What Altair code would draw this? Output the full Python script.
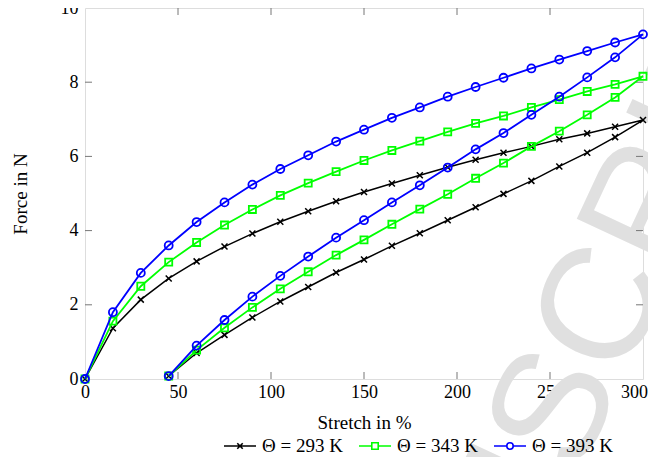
import altair as alt
import pandas as pd

# ---------------- data ----------------
series_labels = ["Θ = 293 K", "Θ = 343 K", "Θ = 393 K"]
series_colors = ["#000000", "#00ff00", "#0000ff"]

x_load = [0, 15, 30, 45, 60, 75, 90, 105, 120, 135, 150, 165, 180, 195, 210,
          225, 240, 255, 270, 285, 300]
x_unload = [285, 270, 255, 240, 225, 210, 195, 180, 165, 150, 135, 120, 105,
            90, 75, 60, 45]

black_load = [0, 1.37, 2.14, 2.71, 3.17, 3.57, 3.92, 4.24, 4.52, 4.79, 5.04,
              5.27, 5.49, 5.71, 5.91, 6.10, 6.27, 6.46, 6.62, 6.80, 6.98]
green_load = [0, 1.56, 2.50, 3.15, 3.68, 4.15, 4.57, 4.95, 5.28, 5.59, 5.89,
              6.16, 6.41, 6.66, 6.89, 7.09, 7.32, 7.53, 7.75, 7.94, 8.16]
blue_load = [0, 1.80, 2.86, 3.60, 4.23, 4.76, 5.24, 5.66, 6.03, 6.40, 6.72,
             7.04, 7.32, 7.61, 7.87, 8.12, 8.37, 8.61, 8.84, 9.07, 9.29]

black_unload = [6.52, 6.10, 5.73, 5.34, 4.99, 4.63, 4.28, 3.93, 3.59, 3.22,
                2.87, 2.48, 2.09, 1.66, 1.19, 0.70, 0.08]
green_unload = [7.59, 7.12, 6.68, 6.27, 5.82, 5.41, 4.98, 4.58, 4.17, 3.75,
                3.34, 2.89, 2.43, 1.93, 1.38, 0.78, 0.08]
blue_unload = [8.67, 8.13, 7.61, 7.12, 6.63, 6.19, 5.70, 5.22, 4.76, 4.28,
               3.81, 3.30, 2.78, 2.22, 1.59, 0.90, 0.08]

x_ticks = [0, 50, 100, 150, 200, 250, 300]
y_ticks = [0, 2, 4, 6, 8, 10]
x_inner_ticks = [50, 100, 150, 200, 250]
y_inner_ticks = [2, 4, 6, 8]

watermark_text = "MANUSCRIPT"

# ---------------- build table ----------------
loads = [black_load, green_load, blue_load]
unloads = [black_unload, green_unload, blue_unload]
rows = []
for lab, ld, ul in zip(series_labels, loads, unloads):
    i = 0
    for xv, yv in zip(x_load, ld):
        rows.append({"series": lab, "x": xv, "y": yv, "idx": i})
        i += 1
    for xv, yv in zip(x_unload, ul):
        rows.append({"series": lab, "x": xv, "y": yv, "idx": i})
        i += 1
df = pd.DataFrame(rows)

W, H = 558, 371
SERIF = "Liberation Serif"

marker_shapes = [
    "M-1,-1L1,1M-1,1L1,-1",
    "square",
    "circle",
]
marker_sizes = [36, 50, 64]
line_widths = [1.5, 1.8, 1.8]

legend_paths = [
    "M-1,0L1,0M-0.17,-0.17L0.17,0.17M-0.17,0.17L0.17,-0.17",
    "M-1,0L-0.2,0M0.2,0L1,0M-0.2,-0.2L0.2,-0.2L0.2,0.2L-0.2,0.2Z",
    "M-1,0L-0.2,0M0.2,0L1,0M-0.2,0A0.2,0.2 0 1,0 0.2,0A0.2,0.2 0 1,0 -0.2,0",
]

xscale = alt.Scale(domain=[0, 300], nice=False, zero=False)
yscale = alt.Scale(domain=[0, 10], nice=False, zero=False)

x_axis = alt.Axis(values=x_ticks, title="Stretch in %", grid=False, domain=False,
                  ticks=False, tickSize=0, labelFont=SERIF, labelFontSize=18,
                  labelColor="black", labelPadding=4, labelFlush=True,
                  labelFlushOffset=4.5,
                  labelOverlap=False, titleFont=SERIF, titleFontSize=19,
                  titleFontWeight="normal", titleColor="black",
                  titleX=W / 2, titleY=43, titleBaseline="middle",
                  titleAlign="center")
y_axis = alt.Axis(values=y_ticks, title="Force in N", grid=False, domain=False,
                  ticks=False, tickSize=0, labelFont=SERIF, labelFontSize=18,
                  labelColor="black", labelPadding=7, labelFlush=False,
                  labelOverlap=False, titleFont=SERIF, titleFontSize=19,
                  titleFontWeight="normal", titleColor="black",
                  titleX=-65, titleY=H / 2, titleAngle=270,
                  titleBaseline="middle", titleAlign="center")

# watermark
wm = alt.Chart(pd.DataFrame({"t": [watermark_text]})).mark_text(
    font="Liberation Sans", fontSize=160, color="#e0e0e0", angle=295,
    align="center", baseline="middle"
).encode(text="t:N", x=alt.value(473), y=alt.value(398))

# inward ticks
xt = pd.DataFrame({"x": x_inner_ticks})
yt = pd.DataFrame({"y": y_inner_ticks})
tick_col = "#777777"
t_bottom = alt.Chart(xt).mark_rule(color=tick_col, strokeWidth=1).encode(
    x=alt.X("x:Q", scale=xscale, axis=x_axis), y=alt.value(H), y2=alt.value(H - 7))
t_top = alt.Chart(xt).mark_rule(color=tick_col, strokeWidth=1).encode(
    x=alt.X("x:Q", scale=xscale), y=alt.value(0), y2=alt.value(7))
t_left = alt.Chart(yt).mark_rule(color=tick_col, strokeWidth=1).encode(
    y=alt.Y("y:Q", scale=yscale, axis=y_axis), x=alt.value(0), x2=alt.value(7))
t_right = alt.Chart(yt).mark_rule(color=tick_col, strokeWidth=1).encode(
    y=alt.Y("y:Q", scale=yscale), x=alt.value(W - 7), x2=alt.value(W))

layers = [wm, t_bottom, t_top, t_left, t_right]

for lab, col, shp, sz, lw in zip(series_labels, series_colors, marker_shapes,
                                 marker_sizes, line_widths):
    base = alt.Chart(df).transform_filter(alt.datum.series == lab)
    line = base.mark_line(color=col, strokeWidth=lw).encode(
        x=alt.X("x:Q", scale=xscale),
        y=alt.Y("y:Q", scale=yscale),
        order="idx:Q",
    )
    pts = base.mark_point(filled=False, color=col, strokeWidth=lw, opacity=1,
                          shape=shp, size=sz).encode(
        x=alt.X("x:Q", scale=xscale),
        y=alt.Y("y:Q", scale=yscale),
    )
    layers += [line, pts]

leg_params = dict(orient="none", legendX=138, legendY=421, direction="horizontal",
                  title=None, labelFont=SERIF, labelFontSize=19, labelColor="black",
                  symbolSize=1024, symbolStrokeWidth=1.6, labelOffset=5,
                  columnPadding=12, padding=0, symbolFillColor="transparent")
legend_layer = alt.Chart(pd.DataFrame({"label": series_labels})).mark_point(
    clip=True, filled=False, strokeWidth=1.6, opacity=1
).encode(
    x=alt.value(-200), y=alt.value(-200),
    color=alt.Color("label:N", scale=alt.Scale(domain=series_labels, range=series_colors),
                    legend=alt.Legend(**leg_params)),
    shape=alt.Shape("label:N", scale=alt.Scale(domain=series_labels, range=legend_paths),
                    legend=alt.Legend(**leg_params)),
)
layers.append(legend_layer)

chart = alt.layer(*layers).properties(
    width=W, height=H,
    autosize=alt.AutoSizeParams(type="none"),
    padding={"left": 77, "top": 0, "right": 5, "bottom": 78},
).configure_view(stroke="#333333", strokeWidth=1).configure(background="white")

chart.save("out.html", embed_options={"renderer": "svg", "actions": False})
